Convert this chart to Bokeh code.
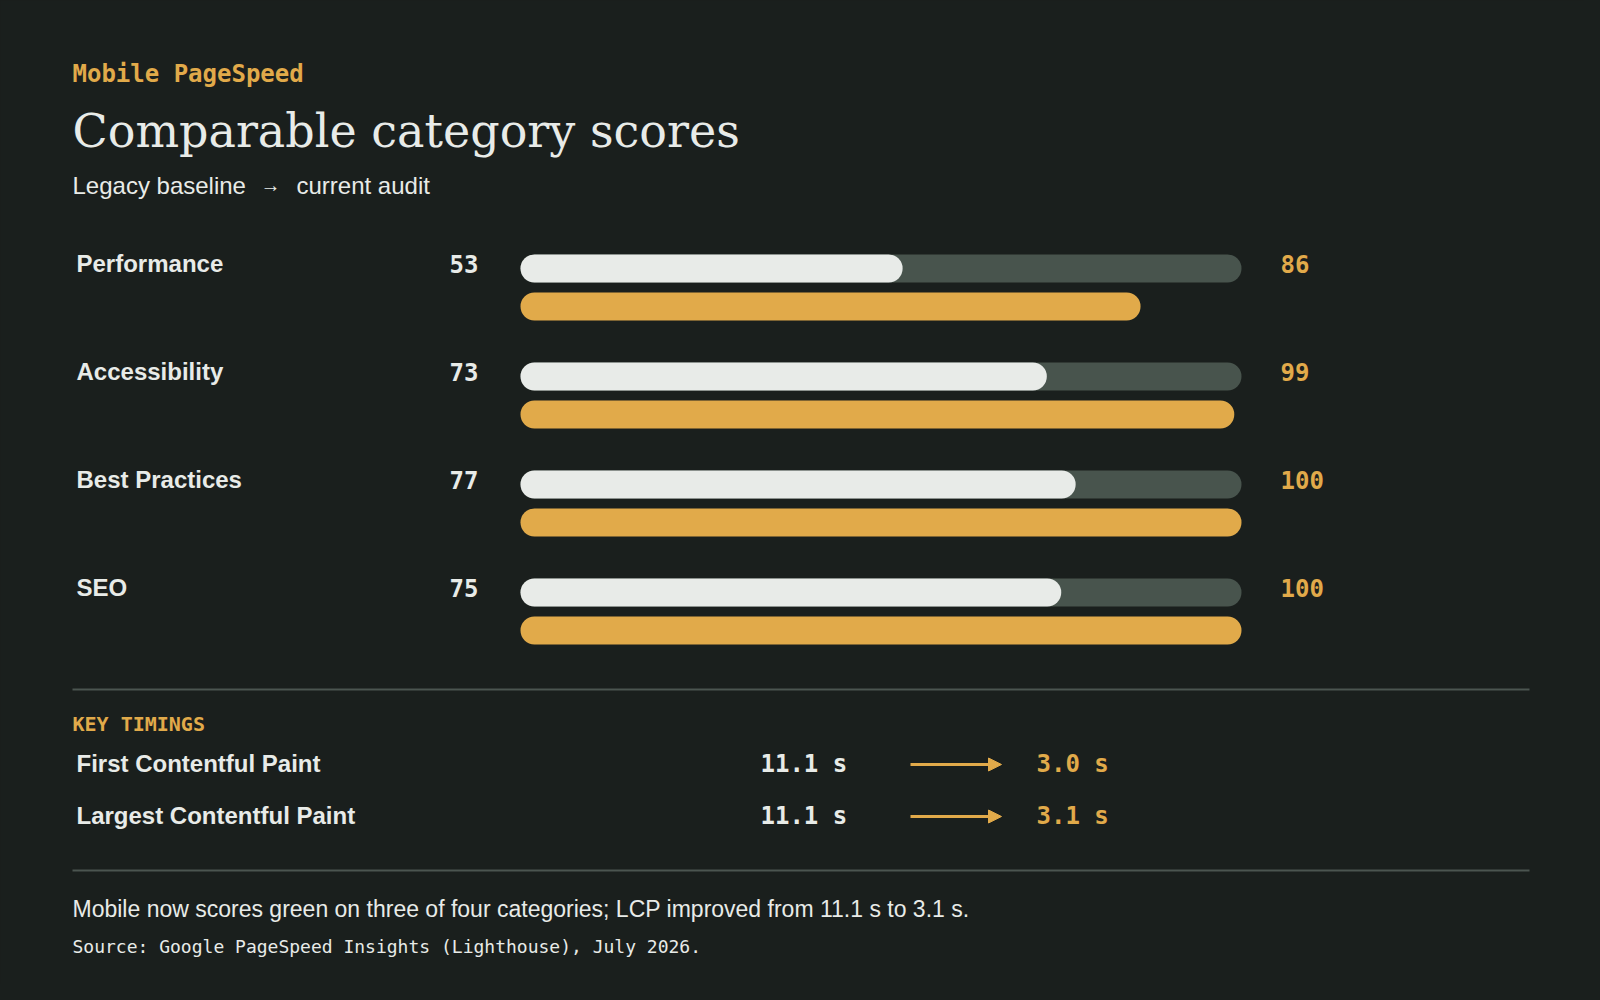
from bokeh.plotting import figure
from bokeh.models import Range1d, ColumnDataSource, Arrow, NormalHead
from bokeh.core.properties import value
from bokeh.embed import file_html
from bokeh.resources import INLINE

# ---------------- data ----------------
categories = ["Performance", "Accessibility", "Best Practices", "SEO"]
baseline_scores = [53, 73, 77, 75]
current_scores = [86, 99, 100, 100]

timing_labels = ["First Contentful Paint", "Largest Contentful Paint"]
timing_before = [11.1, 11.1]
timing_after = [3.0, 3.1]

eyebrow = "Mobile PageSpeed"
title = "Comparable category scores"
subtitle_left = "Legacy baseline"
subtitle_right = "current audit"
section_label = "KEY TIMINGS"
note = "Mobile now scores green on three of four categories; LCP improved from 11.1 s to 3.1 s."
source = "Source: Google PageSpeed Insights (Lighthouse), July 2026."

# ---------------- style ----------------
BG = "#1a1f1d"
LIGHT = "#e8ebe8"
TRACK = "#48544d"
GOLD = "#e1aa4a"
RULE = "#4b5550"
SANS = "Liberation Sans"
MONO = "DejaVu Sans Mono"
SERIF = "DejaVu Serif"

W, H = 1584, 984
BAR_X0, BAR_X1 = 520, 1241  # page x of score 0 and score 100
PX_PER_PT = (BAR_X1 - BAR_X0) / 100.0

p = figure(width=W, height=H, output_backend="svg", toolbar_location=None,
           x_range=Range1d(0, W), y_range=Range1d(H, 0),
           min_border=0, background_fill_color=BG, border_fill_color=BG,
           outline_line_color=None)
p.axis.visible = False
p.grid.visible = False
p.extra_x_ranges = {"score": Range1d(-BAR_X0 / PX_PER_PT, (W - BAR_X0) / PX_PER_PT)}


def txt(x, y, s, font, size, color, style="normal", align="left"):
    p.text(x=[x], y=[y], text=[s], text_font=value(font), text_font_size=f"{size}px",
           text_font_style=style, text_color=color, text_align=align,
           text_baseline="alphabetic")


# header
txt(72, 73, eyebrow, MONO, 24, GOLD, "bold")
txt(72, 130, title, SERIF, 46, LIGHT)
txt(72, 185, subtitle_left, SANS, 24, LIGHT)
txt(270, 184, "\u2192", SANS, 20, LIGHT, align="center")
txt(296, 185, subtitle_right, SANS, 24, LIGHT)

# category rows
ROW0, ROW_STEP = 268, 108
BAR_H = 28
n = len(categories)
ys_base = [ROW0 + i * ROW_STEP for i in range(n)]
ys_cur = [y + 38 for y in ys_base]

src = ColumnDataSource(dict(
    cat=categories, base=baseline_scores, cur=current_scores,
    y_base=ys_base, y_cur=ys_cur, zero=[0] * n, full=[100] * n,
    base_txt=[str(v) for v in baseline_scores],
    cur_txt=[str(v) for v in current_scores],
    lab_y=[y - 5 for y in ys_base],
))

p.hbar(y="y_base", left="zero", right="full", height=BAR_H, source=src,
       x_range_name="score", fill_color=TRACK, line_color=None, border_radius=BAR_H // 2)
p.hbar(y="y_base", left="zero", right="base", height=BAR_H, source=src,
       x_range_name="score", fill_color=LIGHT, line_color=None, border_radius=BAR_H // 2)
p.hbar(y="y_cur", left="zero", right="cur", height=BAR_H, source=src,
       x_range_name="score", fill_color=GOLD, line_color=None, border_radius=BAR_H // 2)

p.text(x=76, y="lab_y", text="cat", source=src, text_font=value(SANS), text_font_size="24px",
       text_font_style="bold", text_color=LIGHT, text_baseline="alphabetic")
p.text(x=478, y="lab_y", text="base_txt", source=src, text_font=value(MONO), text_font_size="24px",
       text_font_style="bold", text_color=LIGHT, text_align="right", text_baseline="alphabetic")
p.text(x=1280, y="lab_y", text="cur_txt", source=src, text_font=value(MONO), text_font_size="24px",
       text_font_style="bold", text_color=GOLD, text_baseline="alphabetic")

# rules
p.segment(x0=[72, 72], x1=[1529, 1529], y0=[689, 870], y1=[689, 870], line_color=RULE, line_width=2)

# key timings
txt(72, 723, section_label, MONO, 20, GOLD, "bold")
T0, T_STEP = 764, 52
m = len(timing_labels)
ty = [T0 + i * T_STEP for i in range(m)]
tsrc = ColumnDataSource(dict(
    lab=timing_labels, y=[v - 1 for v in ty],
    before=[f"{v:.1f} s" for v in timing_before],
    after=[f"{v:.1f} s" for v in timing_after],
))
p.text(x=76, y="y", text="lab", source=tsrc, text_font=value(SANS), text_font_size="24px",
       text_font_style="bold", text_color=LIGHT, text_baseline="alphabetic")
p.text(x=760, y="y", text="before", source=tsrc, text_font=value(MONO), text_font_size="24px",
       text_font_style="bold", text_color=LIGHT, text_baseline="alphabetic")
p.text(x=1036, y="y", text="after", source=tsrc, text_font=value(MONO), text_font_size="24px",
       text_font_style="bold", text_color=GOLD, text_baseline="alphabetic")
for yy in ty:
    p.add_layout(Arrow(x_start=910, y_start=yy, x_end=1001, y_end=yy, line_color=GOLD, line_width=3,
                       end=NormalHead(size=13, fill_color=GOLD, line_color=GOLD)))

# footer
txt(72, 908, note, SANS, 23, LIGHT)
txt(72, 946, source, MONO, 18, LIGHT)

html = file_html(p, INLINE, title="Comparable category scores")
html = html.replace("</head>", f"<style>html,body{{background-color:{BG};}}</style></head>", 1)
open("out.html", "w").write(html)
